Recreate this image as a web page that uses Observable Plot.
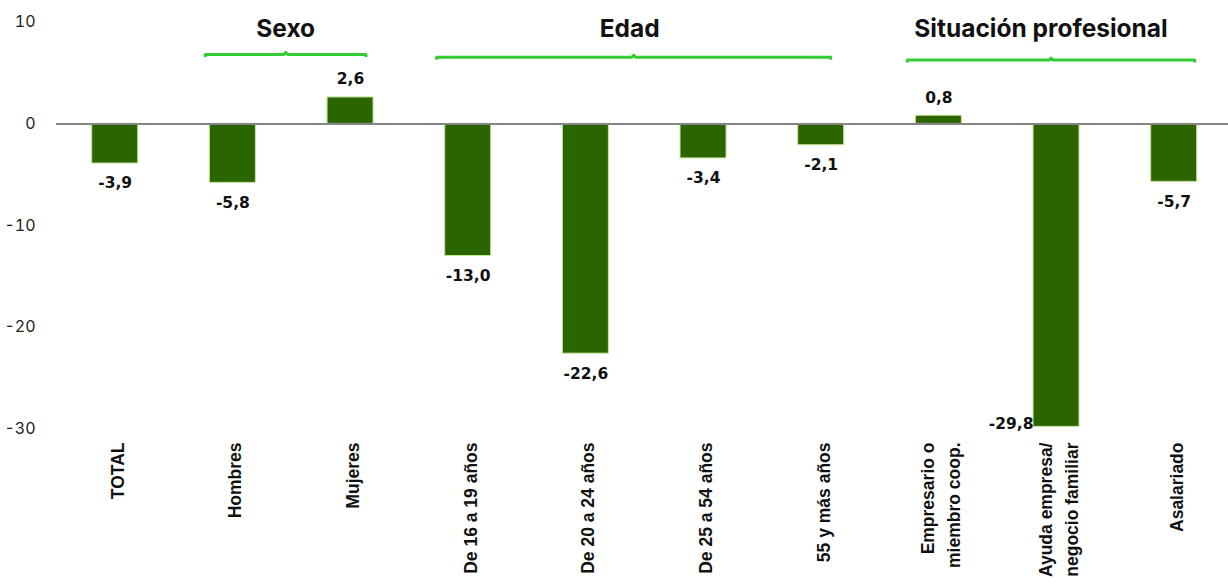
<!DOCTYPE html>
<html>
<head>
<meta charset="utf-8">
<script src="https://cdn.jsdelivr.net/npm/d3@7"></script>
<script src="https://cdn.jsdelivr.net/npm/@observablehq/plot@0.6"></script>
<style>
  html, body { margin: 0; padding: 0; background: #fff; }
  #chart { width: 1228px; height: 584px; overflow: hidden; }
</style>
</head>
<body>
<div id="chart"></div>
<script>
// ---- Data ----
const categories = [
  "TOTAL", "Hombres", "Mujeres",
  "De 16 a 19 años", "De 20 a 24 años", "De 25 a 54 años", "55 y más años",
  "Empresario o\nmiembro coop.", "Ayuda empresa/\nnegocio familiar", "Asalariado"
];
const values = [-3.9, -5.8, 2.6, -13.0, -22.6, -3.4, -2.1, 0.8, -29.8, -5.7];
const yTicks = [10, 0, -10, -20, -30];
const groupNames = ["Sexo", "Edad", "Situación profesional"];
const groupFirst = ["Hombres", "De 16 a 19 años", "Empresario o\nmiembro coop."];
const groupLast = ["Mujeres", "55 y más años", "Asalariado"];

const data = categories.map((c, i) => ({cat: c, value: values[i]}));
const fmt = v => (v < 0 ? "-" : "") + Math.abs(v).toFixed(1).replace(".", ",");

const BAR = "#2a6500";
const BAR_STROKE = "#c9e69a";
const BRACKET = "#33cc33";
const VALUE_FONT = "'DejaVu Sans', Verdana, sans-serif";

// small visual offsets of the bracket annotations (pixels)
const startShift = [-4, -8, -8];
const endShift = [-7, -13, -2];
const titleShift = [0, -4, -10];

const brackets = (index, scales) => {
  const sx = scales.x, sy = scales.y;
  const bw = typeof sx.bandwidth === "function" ? sx.bandwidth() : sx.bandwidth;
  const g = d3.create("svg:g");
  groupNames.forEach((name, i) => {
    const x1 = sx(groupFirst[i]) + startShift[i];
    const x2 = sx(groupLast[i]) + bw + endShift[i];
    const y = sy(6.78) + i * 2.8;
    const xm = (x1 + x2) / 2;
    g.append("path")
      .attr("d", `M${x1},${y + 2.5}L${x1},${y}L${xm - 2},${y}L${xm},${y - 2}L${xm + 2},${y}L${x2},${y}L${x2},${y + 2.5}`)
      .attr("fill", "none")
      .attr("stroke", BRACKET)
      .attr("stroke-width", 3)
      .attr("stroke-linejoin", "round");
    g.append("text")
      .attr("x", xm + titleShift[i])
      .attr("y", sy(8.45))
      .attr("text-anchor", "middle")
      .attr("font-family", "Inter, 'Noto Sans', sans-serif")
      .attr("font-weight", 700)
      .attr("font-size", 24.5)
      .attr("fill", "#111")
      .text(name);
  });
  return g.node();
};

const chart = Plot.plot({
  width: 1228,
  height: 584,
  marginTop: 21.7,
  marginBottom: 155.6,
  marginLeft: 56,
  marginRight: 0,
  style: {fontFamily: "Inter, 'Noto Sans', sans-serif", fontSize: "16px", color: "#222", background: "#fff"},
  x: {domain: categories, range: [56, 1232.4], round: false, paddingInner: 0.609, paddingOuter: 0.3034, axis: null},
  y: {domain: [-30, 10], ticks: yTicks, tickSize: 0, tickPadding: 21, tickFormat: d => String(d), label: null},
  marks: [
    Plot.barY(data, {x: "cat", y: "value", fill: BAR, stroke: BAR_STROKE, strokeWidth: 1}),
    Plot.ruleY([0], {stroke: "#858585", strokeWidth: 2}),
    Plot.text(data.filter(d => d.value >= 0), {x: "cat", y: "value", text: d => fmt(d.value), dy: -18,
      fontFamily: VALUE_FONT, fontWeight: 700, fontSize: 15.5, fill: "#111"}),
    Plot.text(data.filter(d => d.value < 0 && d.value > -25), {x: "cat", y: "value", text: d => fmt(d.value), dy: 20,
      fontFamily: VALUE_FONT, fontWeight: 700, fontSize: 15.5, fill: "#111"}),
    Plot.text(data.filter(d => d.value <= -25), {x: "cat", y: "value", text: d => fmt(d.value), dx: -23, dy: -3,
      textAnchor: "end", fontFamily: VALUE_FONT, fontWeight: 700, fontSize: 15.5, fill: "#111"}),
    Plot.text(categories, {x: d => d, text: d => d, frameAnchor: "bottom", dy: 13.6, rotate: -90,
      textAnchor: "end", lineAnchor: "middle", lineHeight: 1.5,
      fontFamily: "'Liberation Sans', Arial, sans-serif", fontWeight: 700, fontSize: 17.5, fill: "#111"}),
    brackets
  ]
});
document.getElementById("chart").appendChild(chart);
</script>
</body>
</html>
